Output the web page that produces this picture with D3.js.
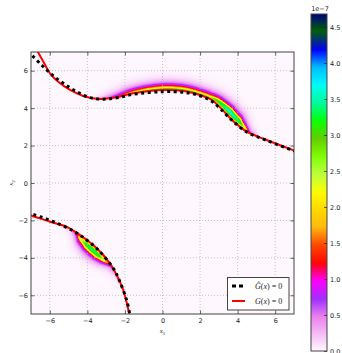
<!DOCTYPE html>
<html><head><meta charset="utf-8">
<script src="https://cdn.jsdelivr.net/npm/d3@7"></script>
<style>body{margin:0;background:#fff;} svg{display:block}</style>
</head><body>
<svg id="chart" width="342" height="353"></svg>
<script>
// ---------- data ----------
const xTicks = [-6, -4, -2, 0, 2, 4, 6];
const yTicks = [-6, -4, -2, 0, 2, 4, 6];
const cbTicks = [0, 0.5, 1, 1.5, 2, 2.5, 3, 3.5, 4, 4.5];
const vMax = 4.68; // colour scale maximum, x1e-7

// G(x)=0 (red), upper and lower branch
const gUpper = [[-6.8,7.3],[-6.61,6.96],[-6.34,6.48],[-5.99,5.86],[-5.55,5.41],[-4.92,4.97],[-4.22,4.65],[-3.42,4.49],[-2.44,4.58],[-1.56,4.79],[0.04,4.97],[1.2,4.9],[2.0,4.70],[2.6,4.45],[3.1,4.0],[3.77,3.3],[4.48,2.74],[5.54,2.30],[6.95,1.76],[7.2,1.67]];
const gLower = [[-7.2,-1.68],[-6.96,-1.75],[-5.99,-2.07],[-5.1,-2.34],[-4.39,-2.78],[-3.5,-3.49],[-2.8,-4.29],[-2.44,-4.92],[-2.09,-5.72],[-1.77,-6.97],[-1.7,-7.3]];
// G-hat(x)=0 (black dotted)
const ghUpper = [[-7.15,7.05],[-6.96,6.84],[-6.43,6.3],[-5.9,5.8],[-5.28,5.33],[-4.57,4.88],[-3.86,4.56],[-3.15,4.48],[-2.44,4.55],[-1.56,4.74],[0.0,4.88],[1.2,4.84],[2.0,4.66],[2.6,4.38],[3.1,3.95],[3.77,3.28],[4.48,2.73],[5.54,2.28],[6.95,1.74],[7.2,1.66]];
const ghLower = [[-7.2,-1.6],[-6.96,-1.65],[-6.52,-1.8],[-5.8,-2.07],[-4.84,-2.51],[-4.3,-2.85],[-3.5,-3.5],[-2.62,-4.56],[-2.3,-5.2],[-1.91,-6.26],[-1.75,-6.97],[-1.7,-7.3]];

// density band along each branch (x1 position, edge value, centre value, band width)
const upperBandX      = [-3.8,-3.2,-2.6,-2.0,-1.0, 0.0, 1.0, 2.0, 2.5, 2.9, 3.4, 3.9, 4.3, 4.7, 5.2];
const upperBandEdge   = [ 0.0, 0.3, 0.9, 1.6, 2.4, 2.8, 2.8, 2.5, 1.8, 1.4, 1.3, 1.2, 1.0, 0.5, 0.0];
const upperBandCenter = [ 0.0, 0.3, 0.9, 1.8, 2.8, 3.2, 3.2, 2.9, 2.6, 3.2, 3.7, 3.4, 2.4, 0.6, 0.0];
const upperBandWidth  = [0.03,0.03,0.04,0.06,0.08,0.09,0.09,0.09,0.16,0.34,0.45,0.42,0.24,0.06,0.03];
const lowerBandX      = [-5.4,-4.9,-4.6,-4.3,-3.9,-3.6,-3.3,-3.0,-2.7,-2.4,-2.0];
const lowerBandEdge   = [ 0.0, 0.2, 0.6, 1.2, 1.3, 1.3, 1.3, 1.2, 0.6,0.15, 0.0];
const lowerBandCenter = [ 0.0, 0.2, 0.7, 2.2, 3.2, 3.4, 3.2, 2.4, 0.7,0.15, 0.0];
const lowerBandWidth  = [0.03,0.03,0.10,0.28,0.42,0.45,0.42,0.28,0.08,0.03,0.03];
const haloDecay = 0.18, innerDecay = 0.015;

// gist_ncar colormap channel stops
const ncarR = [[0,0],[0.3098,0],[0.3725,0.3993],[0.4235,0.5003],[0.5333,1],[0.7922,1],[0.8471,0.6218],[0.898,0.9235],[1,0.9961]];
const ncarG = [[0,0],[0.051,0.3722],[0.1059,0],[0.1569,0.7202],[0.1608,0.7537],[0.1647,0.7752],[0.2157,1],[0.2588,0.9804],[0.2706,0.9804],[0.3176,1],[0.3686,0.8081],[0.4275,1],[0.5216,1],[0.6314,0.7292],[0.6863,0.2796],[0.7451,0],[0.7922,0],[0.8431,0.1753],[0.898,0.5],[1,0.9725]];
const ncarB = [[0,0.502],[0.051,0.0222],[0.1098,1],[0.2039,1],[0.2627,0.6145],[0.3216,0],[0.4157,0],[0.4745,0.2342],[0.5333,0],[0.5804,0],[0.6314,0.0549],[0.6902,0],[0.7373,0],[0.7922,0.9738],[0.8,1],[0.8431,1],[0.898,0.9341],[1,0.9961]];

// ---------- layout ----------
const W = 342, H = 353;
const L = 31, T = 52, R = 294, B = 314;
const x = d3.scaleLinear([-7, 7], [L, R]);
const y = d3.scaleLinear([-7, 7], [B, T]);
const cbX0 = 311, cbX1 = 327, cbT = 14, cbB = 351;
const cb = d3.scaleLinear([0, vMax], [cbB, cbT]);

function chan(stops, t) {
  for (let i = 1; i < stops.length; i++) {
    if (t <= stops[i][0]) {
      const a = stops[i-1], b = stops[i];
      return a[1] + (b[1]-a[1]) * (t - a[0]) / (b[0]-a[0]);
    }
  }
  return stops[stops.length-1][1];
}
function cmap(v) { // reversed gist_ncar
  const t = 1 - Math.max(0, Math.min(1, v / vMax));
  return [chan(ncarR,t)*255, chan(ncarG,t)*255, chan(ncarB,t)*255];
}
function interp(xs, ys, v) {
  if (v <= xs[0]) return ys[0];
  if (v >= xs[xs.length-1]) return ys[ys.length-1];
  for (let i = 1; i < xs.length; i++) if (v <= xs[i]) {
    const f = (v - xs[i-1]) / (xs[i]-xs[i-1]);
    return ys[i-1] + (ys[i]-ys[i-1]) * f;
  }
}

const svg = d3.select("#chart");
const defs = svg.append("defs");
defs.append("clipPath").attr("id","clip").append("rect")
  .attr("x",L).attr("y",T).attr("width",R-L).attr("height",B-T);

const line = d3.line().x(d => x(d[0])).y(d => y(d[1])).curve(d3.curveCatmullRom.alpha(0.5));

function samplePath(pts) {
  const p = svg.append("path").attr("d", line(pts)).attr("fill","none").attr("stroke","none");
  const node = p.node(), len = node.getTotalLength();
  const out = [];
  for (let s = 0; s <= len; s += 0.7) { const q = node.getPointAtLength(s); out.push([q.x, q.y]); }
  p.remove();
  return out;
}
const upperS = samplePath(gUpper), lowerS = samplePath(gLower);
const pxPerUnit = (R - L) / 14;
const ox = x(0), oy = y(0);

function branchValue(samples, bx, be, bc, bw, px, py) {
  let best = 1e9, bi = 0;
  for (let i = 0; i < samples.length; i++) {
    const dx = px - samples[i][0], dy = py - samples[i][1];
    const d2 = dx*dx + dy*dy;
    if (d2 < best) { best = d2; bi = i; }
  }
  const q = samples[bi];
  const a = samples[Math.max(0, bi-2)], b = samples[Math.min(samples.length-1, bi+2)];
  let nx = -(b[1]-a[1]), ny = (b[0]-a[0]);
  if (nx*(q[0]-ox) + ny*(q[1]-oy) < 0) { nx = -nx; ny = -ny; }
  const sgn = (nx*(px-q[0]) + ny*(py-q[1])) >= 0 ? 1 : -1;
  const d = sgn * Math.sqrt(best) / pxPerUnit;
  const x1 = x.invert(q[0]);
  const E = interp(bx, be, x1), C = interp(bx, bc, x1), Wd = interp(bx, bw, x1);
  if (E <= 0 && C <= 0) return 0;
  if (d < 0) return E * Math.exp(d / innerDecay);
  if (d <= Wd) return E + (C - E) * Math.sin(Math.PI * d / Wd);
  return E * Math.exp(-(d - Wd) / haloDecay);
}

// heat map
const cw = R - L, ch = B - T;
const canvas = document.createElement("canvas");
canvas.width = cw; canvas.height = ch;
const ctx = canvas.getContext("2d");
const img = ctx.createImageData(cw, ch);
for (let j = 0; j < ch; j++) {
  for (let i = 0; i < cw; i++) {
    const px = L + i + 0.5, py = T + j + 0.5;
    let v = 0;
    if (py < y(1.5)) v += branchValue(upperS, upperBandX, upperBandEdge, upperBandCenter, upperBandWidth, px, py);
    if (py > y(-1.0) && px < x(0)) v += branchValue(lowerS, lowerBandX, lowerBandEdge, lowerBandCenter, lowerBandWidth, px, py);
    const c = cmap(v);
    const k = (j*cw + i) * 4;
    img.data[k] = c[0]; img.data[k+1] = c[1]; img.data[k+2] = c[2]; img.data[k+3] = 255;
  }
}
ctx.putImageData(img, 0, 0);
svg.append("image").attr("x", L).attr("y", T).attr("width", cw).attr("height", ch)
  .attr("href", canvas.toDataURL());

// grid
const grid = svg.append("g").attr("stroke","#b4b4b4").attr("stroke-width",0.8).attr("stroke-dasharray","1,2");
grid.selectAll(".gx").data(xTicks).join("line").attr("x1",d=>x(d)).attr("x2",d=>x(d)).attr("y1",T).attr("y2",B);
grid.selectAll(".gy").data(yTicks).join("line").attr("y1",d=>y(d)).attr("y2",d=>y(d)).attr("x1",L).attr("x2",R);

// curves
const curves = svg.append("g").attr("clip-path","url(#clip)").attr("fill","none");
curves.append("path").attr("d", line(gUpper)).attr("stroke","#ff0000").attr("stroke-width",2);
curves.append("path").attr("d", line(gLower)).attr("stroke","#ff0000").attr("stroke-width",2);
curves.append("path").attr("d", line(ghUpper)).attr("stroke","#000").attr("stroke-width",3).attr("stroke-dasharray","3,3.5");
curves.append("path").attr("d", line(ghLower)).attr("stroke","#000").attr("stroke-width",3).attr("stroke-dasharray","3,3.5");

// axes
const font = "DejaVu Sans, sans-serif";
function styleAxis(g) {
  g.select(".domain").remove();
  g.selectAll(".tick line").attr("stroke","#222").attr("stroke-width",0.7);
  g.selectAll("text").attr("font-family",font).attr("font-size",6.5).attr("fill","#222");
}
svg.append("g").attr("transform",`translate(0,${B})`)
  .call(d3.axisBottom(x).tickValues(xTicks).tickSize(-3.5).tickPadding(4)).call(styleAxis);
svg.append("g").attr("transform",`translate(0,${T})`)
  .call(d3.axisTop(x).tickValues(xTicks).tickSize(-3.5).tickFormat("")).call(styleAxis);
svg.append("g").attr("transform",`translate(${L},0)`)
  .call(d3.axisLeft(y).tickValues(yTicks).tickSize(-3.5).tickPadding(3)).call(styleAxis);
svg.append("g").attr("transform",`translate(${R},0)`)
  .call(d3.axisRight(y).tickValues(yTicks).tickSize(-3.5).tickFormat("")).call(styleAxis);
svg.append("rect").attr("x",L).attr("y",T).attr("width",R-L).attr("height",B-T)
  .attr("fill","none").attr("stroke","#444").attr("stroke-width",1);

// axis labels
const xl = svg.append("text").attr("x",(L+R)/2).attr("y",333).attr("text-anchor","middle")
  .attr("font-family","Liberation Serif, serif").attr("font-size",7).attr("fill","#222");
xl.append("tspan").attr("font-style","italic").text("x");
xl.append("tspan").attr("font-size",5).attr("dy",1.5).text("1");
const yl = svg.append("text").attr("transform",`translate(13,${(T+B)/2}) rotate(-90)`).attr("text-anchor","middle")
  .attr("font-family","Liberation Serif, serif").attr("font-size",7).attr("fill","#222");
yl.append("tspan").attr("font-style","italic").text("x");
yl.append("tspan").attr("font-size",5).attr("dy",1.5).text("2");

// legend
const lg = svg.append("g");
lg.append("rect").attr("x",227.5).attr("y",277.5).attr("width",61.5).attr("height",32.5)
  .attr("fill","#fff").attr("stroke","#444").attr("stroke-width",1);
lg.append("line").attr("x1",232).attr("x2",245).attr("y1",286).attr("y2",286)
  .attr("stroke","#000").attr("stroke-width",3).attr("stroke-dasharray","4,3");
lg.append("line").attr("x1",232).attr("x2",245).attr("y1",301).attr("y2",301)
  .attr("stroke","#ff0000").attr("stroke-width",2);
function legText(yy, hat) {
  const t = lg.append("text").attr("x",255).attr("y",yy).attr("font-family","Liberation Serif, serif")
    .attr("font-size",8).attr("fill","#222");
  t.append("tspan").attr("font-style","italic").text(hat ? "Ĝ" : "G");
  t.append("tspan").text("(");
  t.append("tspan").attr("font-style","italic").text("x");
  t.append("tspan").text(") = 0");
}
legText(289, true);
legText(304, false);

// colorbar
const grad = defs.append("linearGradient").attr("id","cbg").attr("x1",0).attr("x2",0).attr("y1",1).attr("y2",0);
d3.range(0, 1.0001, 0.005).forEach(f => {
  const c = cmap(f * vMax);
  grad.append("stop").attr("offset", f).attr("stop-color", d3.rgb(c[0],c[1],c[2]).formatHex());
});
svg.append("rect").attr("x",cbX0).attr("y",cbT).attr("width",cbX1-cbX0).attr("height",cbB-cbT)
  .attr("fill","url(#cbg)").attr("stroke","#444").attr("stroke-width",1);
svg.append("g").attr("transform",`translate(${cbX1},0)`)
  .call(d3.axisRight(cb).tickValues(cbTicks).tickSize(-3).tickPadding(3).tickFormat(d3.format(".1f")))
  .call(styleAxis);
svg.append("text").attr("x",(cbX0+cbX1)/2+1).attr("y",11).attr("text-anchor","middle")
  .attr("font-family",font).attr("font-size",6.5).attr("fill","#222").text("1e−7");
</script>
</body></html>
